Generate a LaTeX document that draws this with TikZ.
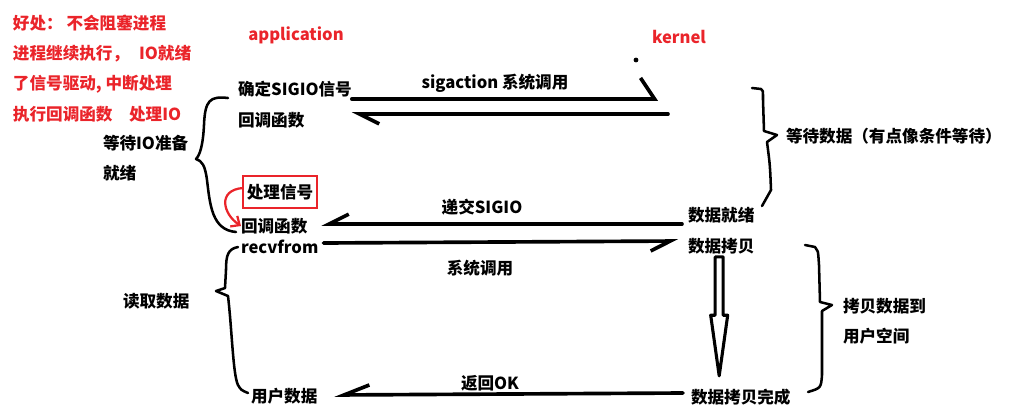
\documentclass[tikz,border=0pt]{standalone}
\usepackage{fontspec}
\setmainfont{Noto Sans CJK SC}
\usetikzlibrary{arrows.meta, positioning, calc}
\definecolor{notered}{RGB}{234,36,42}

\begin{document}
\begin{tikzpicture}[
    x=0.025cm, y=0.025cm,
    every node/.style={inner sep=0pt, outer sep=0pt, font=\bfseries\fontsize{11.8}{21.5}\selectfont},
    txt/.style={anchor=west, align=left},
    note/.style={txt, text=notered},
    callbox/.style={draw=notered, line width=2pt, minimum width=1.85cm, minimum height=0.8cm},
    arrow/.style={line width=2.6pt, line cap=round},
    barbleft/.style={arrow, -{Straight Barb[left, length=14pt, width=14pt]}},
    barbright/.style={arrow, -{Straight Barb[right, length=14pt, width=14pt]}},
    brace/.style={line width=1.8pt, line cap=round, line join=round},
    hollow/.style={line width=2.2pt, line join=round},
    redarrow/.style={notered, line width=1.6pt, -{Straight Barb[length=5pt, width=9pt]}}
]
\useasboundingbox (0,0) rectangle (1010,-415);

% Notes
\node[note] (benefit) at (13,-68.5) {好处： 不会阻塞进程\\进程继续执行，\hspace{0.6em}IO就绪\\了信号驱动, 中断处理\\执行回调函数\hspace{1em}处理IO};
\node[note, anchor=center] (app) at (296,-35) {application};
\node[note, anchor=center] (kern) at (679,-37) {kernel};
\coordinate (kdot) at (636,-60);
\fill (kdot) circle (1.7pt);

% Application side
\node[txt] (decide) at (238,-89) {确定SIGIO信号};
\node[txt] (cbfirst) at (238,-120) {回调函数};
\node[txt] (waitio) at (103,-158) {等待IO准备\\就绪};
\node[callbox] (handle) at (280,-192) {处理信号};
\node[txt] (cbsecond) at (241,-226) {回调函数};
\node[txt] (recv) at (241,-247) {recvfrom};
\node[txt] (readdata) at (123,-301) {读取数据};
\node[txt] (userdata) at (251,-396) {用户数据};

% Kernel side
\node[txt] (ready) at (688,-215) {数据就绪};
\node[txt] (copy) at (688,-246) {数据拷贝};
\node[txt] (copydone) at (691,-397) {数据拷贝完成};
\node[txt] (waitdata) at (786,-136) {等待数据（有点像条件等待）};
\node[txt] (copyto) at (843,-321) {拷贝数据到\\用户空间};

% Arrow labels
\node (lsig) at (495,-83) {sigaction 系统调用};
\node (ldeliver) at (482,-207) {递交SIGIO};
\node (lsys) at (480,-268) {系统调用};
\node (lok) at (490,-383) {返回OK};

% Arrows
\coordinate (kone) at (658,-99);
\coordinate (ktwo) at (668,-114);
\draw[arrow, -{Straight Barb[left, length=10pt, width=30pt]}] (decide.east |- kone) -- (kone);
\draw[barbleft] (ktwo) -- (decide.east |- ktwo);
\draw[barbright] ($(ready.west)+(-6,-9)$) -- ($(cbsecond.east)+(14,2)$);
\draw[barbright] ($(recv.east)+(5,4)$) -- ($(copy.west)+(-10,5)$);
\draw[arrow, -{Straight Barb[right, length=18pt, width=14pt]}] ($(copydone.west)+(-8,4)$) -- ($(userdata.east)+(17,1)$);
\draw[redarrow] ($(handle.west)+(0,4)$) .. controls +(-26,-2) and +(-18,12) .. (cbsecond.west);

% Hollow arrow
\coordinate (htop) at ($(copy.south)+(-2,-3)$);
\coordinate (htip) at ($(htop |- copydone.north)+(0,13)$);
\coordinate (hmid) at ($(htop)!0.49!(htip)$);
\draw[hollow] ($(htop)+(-4,0)$) -- ($(htop)+(4,0)$) -- ($(hmid)+(4,0)$) -- ($(hmid)+(8.5,0)$)
    -- (htip) -- ($(hmid)+(-8.5,0)$) -- ($(hmid)+(-4,0)$) -- cycle;

% Braces
\draw[brace] (228,-98) .. controls (210,-96) and (205,-100) .. (204,-125)
    .. controls (203,-145) and (200,-155) .. (196,-159)
    .. controls (202,-161) and (205,-165) .. (207,-180)
    .. controls (210,-205) and (212,-230) .. (236,-232);
\draw[brace] (752,-88) -- (761,-89) .. controls (763,-90) .. (763,-100) -- (764,-131)
    -- (777,-135) -- (767,-142) .. controls (770,-165) .. (771,-190) -- (762,-206);
\draw[brace] (805,-245) -- (815,-247) .. controls (818,-250) .. (819,-265) -- (820,-302)
    -- (832,-305) -- (822,-311) -- (822,-375) .. controls (821,-388) .. (808,-392);
\draw[brace] (238,-247) .. controls (228,-249) and (226,-255) .. (226,-270) -- (225,-288)
    -- (216,-291) -- (228,-296) .. controls (232,-330) and (233,-375) .. (238,-385)
    .. controls (241,-390) .. (248,-393);
\end{tikzpicture}
\end{document}
